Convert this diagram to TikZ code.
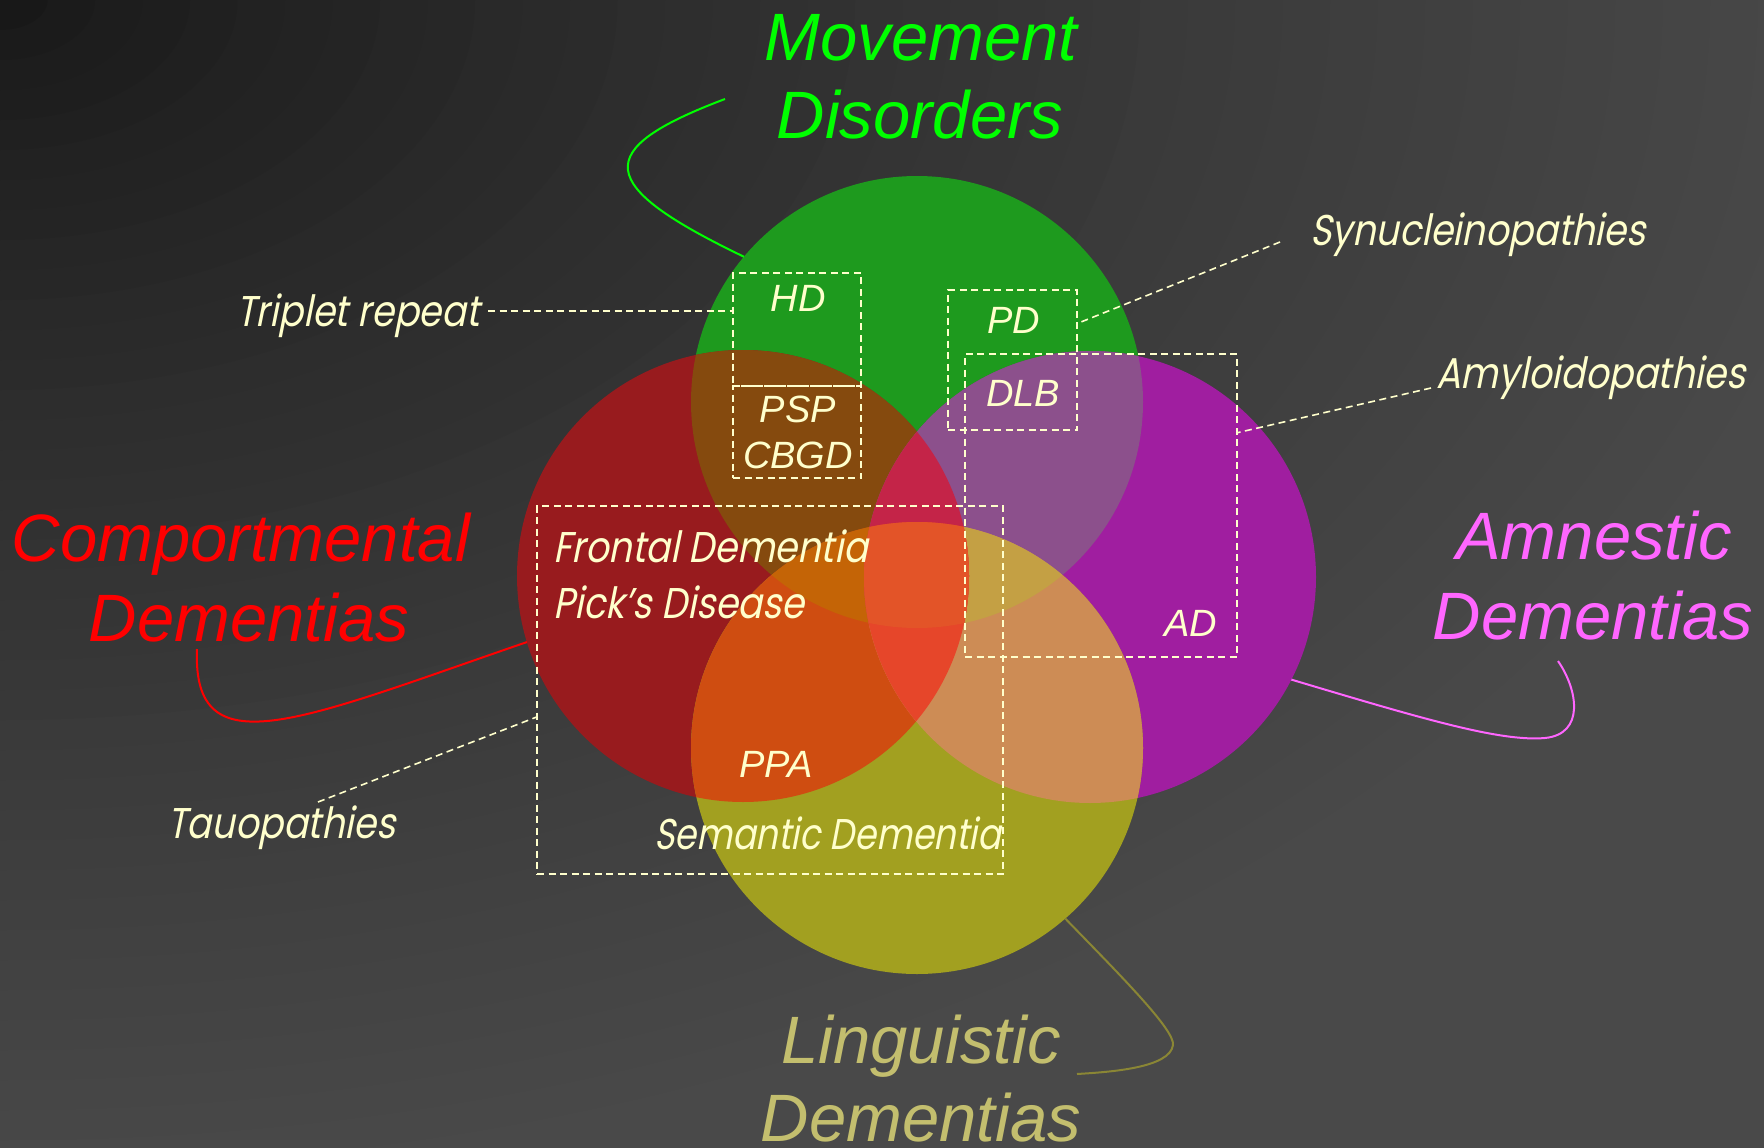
\documentclass[tikz,border=0pt]{standalone}
\usepackage{fontspec}
\setmainfont{Liberation Sans}
\newfontfamily\arialfont{Liberation Sans}
\newfontfamily\twfont{Poppins}[FakeSlant=0.2,FakeStretch=0.85]
\usetikzlibrary{calc}
\definecolor{cream}{RGB}{255,255,204}
\definecolor{bgfar}{RGB}{73,73,73}
\definecolor{cG}{RGB}{30,154,30}
\definecolor{cR}{RGB}{152,27,30}
\definecolor{cM}{RGB}{160,30,160}
\definecolor{cO}{RGB}{162,160,32}
\definecolor{cGR}{RGB}{133,74,14}
\definecolor{cGM}{RGB}{140,80,140}
\definecolor{cRO}{RGB}{207,77,17}
\definecolor{cMO}{RGB}{205,140,85}
\definecolor{cGRO}{RGB}{196,100,6}
\definecolor{cGMO}{RGB}{196,160,68}
\definecolor{cGRM}{RGB}{196,36,72}
\definecolor{cRMO}{RGB}{230,70,42}
\definecolor{cGRMO}{RGB}{227,84,40}
\definecolor{cMov}{RGB}{0,255,0}
\definecolor{cCom}{RGB}{255,0,0}
\definecolor{cAmn}{RGB}{255,102,255}
\definecolor{cLin}{RGB}{195,190,110}
\definecolor{cLinLine}{RGB}{138,134,53}
\tikzset{
  venn/.style={circle, minimum size=452pt, inner sep=0pt, outer sep=0pt},
  big/.style={inner sep=0pt, font=\arialfont\itshape\fontsize{67}{80}\selectfont},
  boxlab/.style={inner sep=0pt, text=cream, font=\arialfont\itshape\fontsize{38}{44}\selectfont},
  twlab/.style={inner sep=0pt, text=cream, font=\twfont\fontsize{43}{50}\selectfont},
  dbox/.style={draw=cream, line width=2pt, dash pattern=on 7pt off 4.5pt, rectangle, inner sep=0pt, outer sep=0pt},
  leader/.style={draw=cream, line width=1.6pt, dash pattern=on 7pt off 4.5pt},
  callout/.style={line width=2pt}
}
\begin{document}
\begin{tikzpicture}[x=1pt,y=-1pt]
\useasboundingbox (0,0) rectangle (1764,1148);
% background
\fill[bgfar] (0,0) rectangle (1764,1148);
\begin{scope}
\clip (0,0) rectangle (1764,1148);
\foreach \i in {40,39,...,1} {
  \pgfmathsetmacro\g{(21+52*exp(0.75*ln(\i/40)))/255}
  \definecolor{bgc}{gray}{\g}
  \fill[bgc] (0,0) ellipse [x radius=\i*47.5pt, y radius=\i*30pt];
}
\end{scope}
% circles
\node[venn, fill=cG] (G) at (917,402) {};
\node[venn, fill=cR] (R) at (743,576) {};
\node[venn, fill=cM] (M) at (1090,577) {};
\node[venn, fill=cO] (O) at (917,748) {};
% pairwise
\begin{scope}\clip (G) circle [radius=226pt]; \fill[cGR] (R) circle [radius=226pt];\end{scope}
\begin{scope}\clip (G) circle [radius=226pt]; \fill[cGM] (M) circle [radius=226pt];\end{scope}
\begin{scope}\clip (R) circle [radius=226pt]; \fill[cRO] (O) circle [radius=226pt];\end{scope}
\begin{scope}\clip (M) circle [radius=226pt]; \fill[cMO] (O) circle [radius=226pt];\end{scope}
% triples
\begin{scope}\clip (G) circle [radius=226pt]; \clip (R) circle [radius=226pt]; \fill[cGRO] (O) circle [radius=226pt];\end{scope}
\begin{scope}\clip (G) circle [radius=226pt]; \clip (M) circle [radius=226pt]; \fill[cGMO] (O) circle [radius=226pt];\end{scope}
\begin{scope}\clip (G) circle [radius=226pt]; \clip (R) circle [radius=226pt]; \fill[cGRM] (M) circle [radius=226pt];\end{scope}
\begin{scope}\clip (R) circle [radius=226pt]; \clip (M) circle [radius=226pt]; \fill[cRMO] (O) circle [radius=226pt];\end{scope}
% quad
\begin{scope}\clip (G) circle [radius=226pt]; \clip (R) circle [radius=226pt]; \clip (M) circle [radius=226pt]; \fill[cGRMO] (O) circle [radius=226pt];\end{scope}

% dashed boxes
\node[dbox, minimum width=128pt, minimum height=113pt] (hdbox) at (797,329.5) {};
\node[dbox, minimum width=128pt, minimum height=92pt] (pspbox) at (797,432) {};
\node[dbox, minimum width=129pt, minimum height=140pt] (pdbox) at (1012.5,360) {};
\node[dbox, minimum width=272pt, minimum height=303pt] (amybox) at (1101,505.5) {};
\node[dbox, minimum width=466pt, minimum height=368pt] (taubox) at (770,690) {};

% box labels
\node[boxlab, anchor=base] (hd) at (798,311) {HD};
\node[boxlab, anchor=base] (psp) at (798,422) {PSP};
\node[boxlab, anchor=base] (cbgd) at (798,468) {CBGD};
\node[boxlab, anchor=base] (pd) at (1014,333) {PD};
\node[boxlab, anchor=base] (dlb) at (1023,406) {DLB};
\node[boxlab, anchor=base] (ad) at (1191,636) {AD};
\node[boxlab, anchor=base] (ppa) at (776,777) {PPA};

% geometric italic labels
\node[twlab, anchor=base west] (front) at (553,562) {Frontal Dementia};
\node[twlab, anchor=base west] (pick) at (553,618) {Pick’s Disease};
\node[twlab, anchor=base west] (sem) at (654,849) {\scalebox{0.955}[1]{Semantic Dementia}};
\node[twlab, anchor=base west] (trip) at (236,326) {Triplet repeat};
\node[twlab, anchor=base west] (synu) at (1310,245) {Synucleinopathies};
\node[twlab, anchor=base west] (amy) at (1436,388) {Amyloidopathies};
\node[twlab, anchor=base west] (tau) at (167,838) {Tauopathies};

% leaders
\coordinate (tripend) at (488,311);
\coordinate (synuend) at (1280,242);
\coordinate (amyend) at (1431,388);
\coordinate (tauend) at (318,802);
\draw[leader] (tripend) -- (tripend -| hdbox.west);
\draw[leader] (synuend) -- ($(pdbox.north east)!0.24!(pdbox.south east)$);
\draw[leader] (amyend) -- ($(amybox.north east)!0.26!(amybox.south east)$);
\draw[leader] (tauend) -- ($(taubox.north west)!0.573!(taubox.south west)$);

% big labels
\node[big, text=cMov, anchor=base] (mov1) at (921,60) {Movement};
\node[big, text=cMov, anchor=base] (mov2) at (920,138) {Disorders};
\node[big, text=cCom, anchor=base] (com1) at (241,561) {Comportmental};
\node[big, text=cCom, anchor=base] (com2) at (249,641) {Dementias};
\node[big, text=cAmn, anchor=base] (amn1) at (1594,559) {Amnestic};
\node[big, text=cAmn, anchor=base] (amn2) at (1593,639) {Dementias};
\node[big, text=cLin, anchor=base] (lin1) at (921,1063) {Linguistic};
\node[big, text=cLin, anchor=base] (lin2) at (921,1141) {Dementias};

% callouts
\coordinate (gstart) at (725,99);
\coordinate (rstart) at (197,649);
\coordinate (mstart) at (1558,661);
\coordinate (ostart) at (1077,1074);
\draw[callout, cMov] (gstart) .. controls (590,150) and (595,185) .. (G.140);
\draw[callout, cCom] (rstart) .. controls (192,770) and (300,720) .. (R.197);
\draw[callout, cAmn] (mstart) .. controls (1578,690) and (1585,734) .. (1545,738) .. controls (1500,742) and (1420,718) .. (M.-27);
\draw[callout, cLinLine] (ostart) .. controls (1110,1072) and (1170,1068) .. (1173,1045) .. controls (1175,1030) and (1120,975) .. (O.-49);
\end{tikzpicture}
\end{document}
